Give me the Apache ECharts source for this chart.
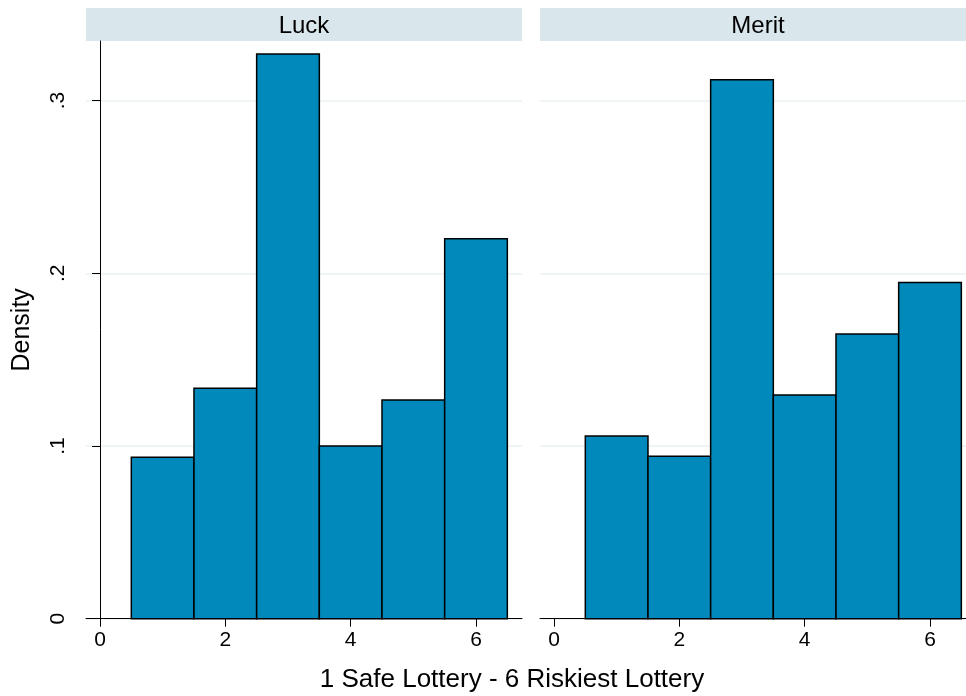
<!DOCTYPE html>
<html>
<head>
<meta charset="utf-8">
<script src="https://cdn.jsdelivr.net/npm/echarts@6/dist/echarts.min.js"></script>
<style>html,body{margin:0;padding:0;background:#fff}#chart{width:966px;height:696px}</style>
</head>
<body>
<div id="chart"></div>
<script>
// ---- data ----
const panels = ['Luck', 'Merit'];
const binCentres = [1, 2, 3, 4, 5, 6];
const luckDensity = [0.0935, 0.1334, 0.3270, 0.1000, 0.1266, 0.2200];
const meritDensity = [0.1058, 0.0940, 0.3120, 0.1295, 0.1649, 0.1946];
const xTickValues = [0, 2, 4, 6];
const yTickValues = [0, 0.1, 0.2, 0.3];
const yTickLabels = ['0', '.1', '.2', '.3'];
const xTitle = '1 Safe Lottery - 6 Riskiest Lottery';
const yTitle = 'Density';

const FONT = '"Liberation Sans", Arial, sans-serif';
const BAR = '#0189bb';
const STRIP = '#d9e6eb';
const GRIDC = '#eaf1f3';

const chart = echarts.init(document.getElementById('chart'), null, {renderer: 'canvas'});

function renderBar(params, api) {
  const c = api.value(0), v = api.value(1);
  const p0 = api.coord([c - 0.5, v]);
  const p1 = api.coord([c + 0.5, 0]);
  return {
    type: 'rect',
    shape: {x: p0[0], y: p0[1], width: p1[0] - p0[0], height: p1[1] - p0[1]},
    style: {fill: BAR, stroke: '#000', lineWidth: 1.5}
  };
}

const gridDefs = [
  {left: 86, top: 41, right: 444, bottom: 77.3, outerBoundsMode: 'none'},
  {left: 540, top: 41, right: -10, bottom: 77.3, outerBoundsMode: 'none'}
];
const panelBoxes = [{x: 86, w: 436}, {x: 540, w: 436}];

const xAxes = gridDefs.map((g, i) => ({
  type: 'value', gridIndex: i, min: -0.223, max: 6.734,
  name: '',
  axisLine: {show: true, lineStyle: {color: '#000', width: 1}},
  axisTick: {show: true, length: 8, lineStyle: {color: '#000'}, customValues: xTickValues},
  axisLabel: {show: true, color: '#000', fontFamily: FONT, fontSize: 21, margin: 11, customValues: xTickValues},
  splitLine: {show: false}
}));

const yAxes = gridDefs.map((g, i) => ({
  type: 'value', gridIndex: i, min: 0, max: 0.3345,
  name: i === 0 ? yTitle : '',
  nameLocation: 'middle', nameRotate: 90, nameGap: 51,
  nameTextStyle: {color: '#000', fontFamily: FONT, fontSize: 25},
  axisLine: {show: i === 0, lineStyle: {color: '#000', width: 1}},
  axisTick: {show: i === 0, length: 8, lineStyle: {color: '#000'}, customValues: yTickValues},
  axisLabel: {
    show: i === 0, color: '#000', fontFamily: FONT, fontSize: 21, rotate: 90, margin: 17,
    customValues: yTickValues,
    formatter: v => yTickLabels[yTickValues.findIndex(t => Math.abs(t - v) < 1e-9)]
  },
  splitLine: {show: true, lineStyle: {color: GRIDC, width: 1.5}}
}));

const option = {
  backgroundColor: '#fff',
  animation: false,
  title: [
    ...panels.map((p, i) => ({
      text: p, left: panelBoxes[i].x + panelBoxes[i].w / 2 - 5, top: 9, textAlign: 'center',
      textStyle: {color: '#000', fontFamily: FONT, fontSize: 24, fontWeight: 'normal'}
    })),
    {
      text: xTitle, left: 507, top: 662, textAlign: 'center',
      textStyle: {color: '#000', fontFamily: FONT, fontSize: 26, fontWeight: 'normal'}
    }
  ],
  graphic: panels.map((p, i) => ({
    type: 'rect', z: -1,
    shape: {x: panelBoxes[i].x, y: 8, width: panelBoxes[i].w, height: 33},
    style: {fill: STRIP}
  })),
  grid: gridDefs,
  xAxis: xAxes,
  yAxis: yAxes,
  series: [
    {type: 'custom', xAxisIndex: 0, yAxisIndex: 0, renderItem: renderBar,
     data: binCentres.map((c, k) => [c, luckDensity[k]])},
    {type: 'custom', xAxisIndex: 1, yAxisIndex: 1, renderItem: renderBar,
     data: binCentres.map((c, k) => [c, meritDensity[k]])}
  ]
};
chart.setOption(option);
</script>
</body>
</html>
